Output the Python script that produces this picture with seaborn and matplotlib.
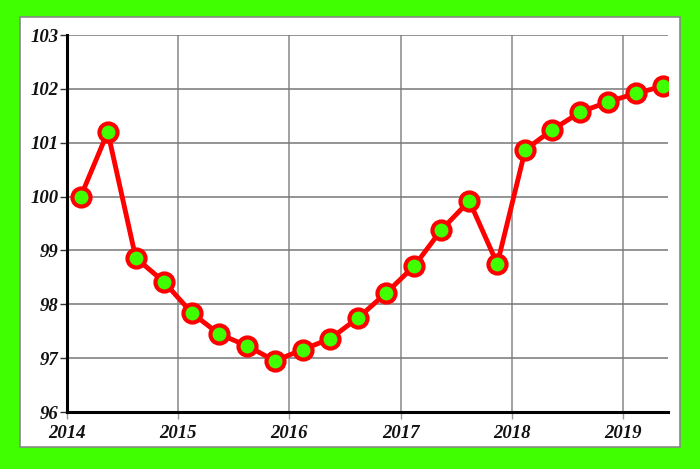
import pandas as pd
import matplotlib.pyplot as plt
import matplotlib.dates as mdates
from matplotlib.patches import Rectangle
import seaborn as sns

# quarterly index values
dates = ["2014-02-15", "2014-05-15", "2014-08-15", "2014-11-15",
         "2015-02-15", "2015-05-15", "2015-08-15", "2015-11-15",
         "2016-02-15", "2016-05-15", "2016-08-15", "2016-11-15",
         "2017-02-15", "2017-05-15", "2017-08-15", "2017-11-15",
         "2018-02-15", "2018-05-15", "2018-08-15", "2018-11-15",
         "2019-02-15", "2019-05-15"]
values = [100.0, 101.2, 98.86, 98.42, 97.84, 97.45, 97.23, 96.95,
          97.16, 97.36, 97.75, 98.21, 98.71, 99.38, 99.92, 98.75,
          100.87, 101.24, 101.57, 101.76, 101.92, 102.05]
yticks = [96, 97, 98, 99, 100, 101, 102, 103]

df = pd.DataFrame({"date": pd.to_datetime(dates), "value": values})

sns.set_style("white")
plt.rcParams["font.family"] = ["Liberation Serif", "DejaVu Serif"]

green = "#40ff00"
fig = plt.figure(figsize=(7, 4.69), dpi=100, facecolor=green)
fig.patches.append(Rectangle((20 / 700, 1 - 447 / 469), 660 / 700, 430 / 469,
                             transform=fig.transFigure, facecolor="white",
                             edgecolor="#888888", linewidth=1.2, zorder=-1))
ax = fig.add_axes([67 / 700, 1 - 412 / 469, 601 / 700, 377 / 469])
ax.set_zorder(1)
ax.set_facecolor("none")

sns.lineplot(data=df, x="date", y="value", ax=ax, color="red", linewidth=3.5,
             marker="o", markersize=13, markerfacecolor=green,
             markeredgecolor="red", markeredgewidth=3, zorder=5)

ax.set_xlim(pd.Timestamp("2014-01-01"), pd.Timestamp("2019-05-30"))
ax.set_ylim(96, 103)
ax.set_yticks(yticks)
ax.xaxis.set_major_locator(mdates.YearLocator())
ax.xaxis.set_major_formatter(mdates.DateFormatter("%Y"))

ax.grid(axis="y", color="#777777", linewidth=1.1)
ax.grid(axis="x", color="#888888", linewidth=1.1)
for s in ["top", "right"]:
    ax.spines[s].set_visible(False)
for s in ["left", "bottom"]:
    ax.spines[s].set_color("black")
    ax.spines[s].set_linewidth(2.2)

ax.tick_params(axis="y", left=True, length=5, width=1, color="#333333", pad=1)
ax.tick_params(axis="x", bottom=True, length=5, width=1, color="#999999", pad=4)
for lab in ax.get_xticklabels() + ax.get_yticklabels():
    lab.set_fontsize(13.5)
    lab.set_fontweight("bold")
    lab.set_fontstyle("italic")
    lab.set_color("#111111")
ax.set_xlabel("")
ax.set_ylabel("")

fig.savefig("out.png", dpi=100, facecolor=green)
